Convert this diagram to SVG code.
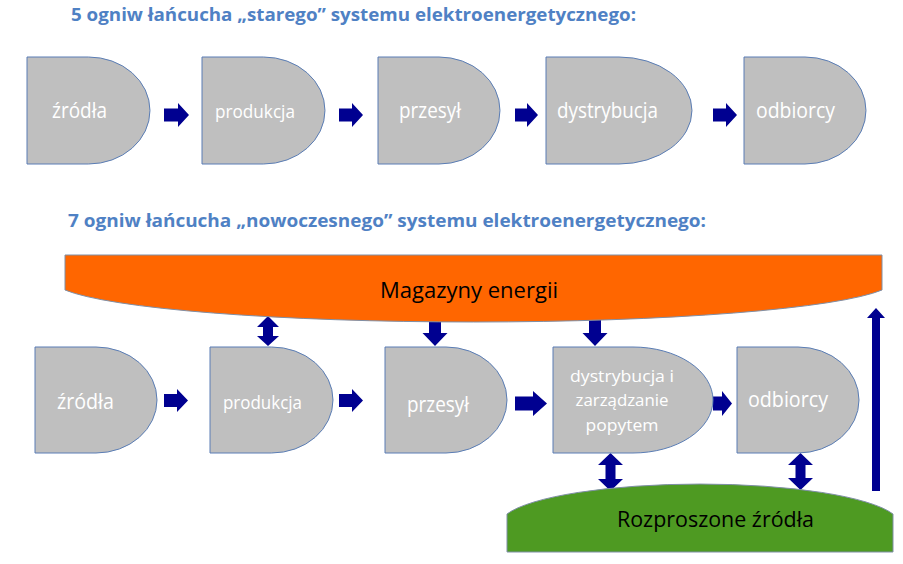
<svg xmlns="http://www.w3.org/2000/svg" width="903" height="564" viewBox="0 0 903 564">
<style>
.bg{fill:#ffffff}
.node{fill:#bfbfbf;stroke:#5a7db5;stroke-width:1}
.lbl{font-family:"Open Sans","Liberation Sans",sans-serif;fill:#ffffff}
.head{font-family:"Open Sans","Liberation Sans",sans-serif;font-weight:bold;fill:#4f81c4;font-size:17.5px}
.big{font-family:"Open Sans","Liberation Sans",sans-serif;fill:#000000;font-size:22px}
.arr{fill:#000090}
</style>
<rect class="bg" x="0" y="0" width="903" height="564"/>
<text class="head" x="71" y="21" textLength="565" lengthAdjust="spacingAndGlyphs">5 ogniw łańcucha „starego” systemu elektroenergetycznego:</text>
<text class="head" x="68" y="227" textLength="638" lengthAdjust="spacingAndGlyphs">7 ogniw łańcucha „nowoczesnego” systemu elektroenergetycznego:</text>

<g id="connectors">
  <path class="arr" d="M164,108.5 H178 V103 L189,115 L178,127 V121.5 H164 Z"/>
  <path class="arr" d="M339,108.5 H352 V103 L363,115 L352,127 V121.5 H339 Z"/>
  <path class="arr" d="M515,108.5 H527 V103 L538,115 L527,127 V121.5 H515 Z"/>
  <path class="arr" d="M713,108.5 H726 V103 L737,115 L726,127 V121.5 H713 Z"/>

  <path class="arr" d="M164,394 H177 V389 L188,400.5 L177,412 V407 H164 Z"/>
  <path class="arr" d="M339,394 H352 V389 L363,400.5 L352,412 V407 H339 Z"/>
  <path class="arr" d="M515,396.5 H533 V391 L547,403.5 L533,416 V410.5 H515 Z"/>
  <path class="arr" d="M713,396.5 H722 V391 L732,403.5 L722,416 V410.5 H713 Z"/>

  <path class="arr" d="M268,316 L279,327 H273 V336 H279 L268,346 L257,336 H263 V327 H257 Z"/>
  <path class="arr" d="M429,318 H441 V333 H447.5 L435,346 L422.5,333 H429 Z"/>
  <path class="arr" d="M589,318 H601 V333 H607.5 L595,346 L582.5,333 H589 Z"/>

  <path class="arr" d="M610.5,453 L623,465 H615.5 V479 H623 L610.5,491 L598,479 H605.5 V465 H598 Z"/>
  <path class="arr" d="M800.5,453 L813,465 H805.5 V478 H813 L800.5,490 L788,478 H795.5 V465 H788 Z"/>

  <path class="arr" d="M876,308 L885,318 H880 V491 H872 V318 H867 Z"/>
</g>

<g id="magazyny">
  <path d="M65,255 H882 V290 A420,41.7 0 0 1 65,290 Z" fill="#ff6600" stroke="#7f8fa6" stroke-width="1"/>
  <text class="big" x="380" y="298" textLength="178" lengthAdjust="spacingAndGlyphs">Magazyny energii</text>
</g>

<g id="rozproszone">
  <path d="M507,552 V514 A200,40.6 0 0 1 893,514 V552 Z" fill="#4e9a22" stroke="#7f8fa6" stroke-width="1"/>
  <text class="big" x="617" y="527" textLength="197" lengthAdjust="spacingAndGlyphs">Rozproszone źródła</text>
</g>

<g id="s1-zrodla">
  <path class="node" d="M27,57 H88.5 A61.5,53.5 0 0 1 88.5,164 H27 Z"/>
  <text class="lbl" x="52" y="118" font-size="21" textLength="55" lengthAdjust="spacingAndGlyphs">źródła</text>
</g>
<g id="s1-produkcja">
  <path class="node" d="M202,57 H263.5 A61.5,53.5 0 0 1 263.5,164 H202 Z"/>
  <text class="lbl" x="215" y="118" font-size="19" textLength="80" lengthAdjust="spacingAndGlyphs">produkcja</text>
</g>
<g id="s1-przesyl">
  <path class="node" d="M378,57 H439 A61,53.5 0 0 1 439,164 H378 Z"/>
  <text class="lbl" x="399" y="118" font-size="21" textLength="62" lengthAdjust="spacingAndGlyphs">przesył</text>
</g>
<g id="s1-dystrybucja">
  <path class="node" d="M546,57 H619 A73,53.5 0 0 1 619,164 H546 Z"/>
  <text class="lbl" x="557" y="118" font-size="21" textLength="101" lengthAdjust="spacingAndGlyphs">dystrybucja</text>
</g>
<g id="s1-odbiorcy">
  <path class="node" d="M744,57 H805 A61,53.5 0 0 1 805,164 H744 Z"/>
  <text class="lbl" x="756" y="118" font-size="21" textLength="79" lengthAdjust="spacingAndGlyphs">odbiorcy</text>
</g>

<g id="s2-zrodla">
  <path class="node" d="M35,347 H96 A61,53 0 0 1 96,453 H35 Z"/>
  <text class="lbl" x="57" y="409" font-size="21" textLength="57" lengthAdjust="spacingAndGlyphs">źródła</text>
</g>
<g id="s2-produkcja">
  <path class="node" d="M210,347 H271.5 A61.5,53 0 0 1 271.5,453 H210 Z"/>
  <text class="lbl" x="223" y="409" font-size="19" textLength="79" lengthAdjust="spacingAndGlyphs">produkcja</text>
</g>
<g id="s2-przesyl">
  <path class="node" d="M385,347 H446 A61,53 0 0 1 446,453 H385 Z"/>
  <text class="lbl" x="407" y="412" font-size="21" textLength="62" lengthAdjust="spacingAndGlyphs">przesył</text>
</g>
<g id="s2-dystrybucja">
  <path class="node" d="M553,347 H633 A80,53 0 0 1 633,453 H553 Z"/>
  <text class="lbl" x="622" y="382" font-size="17" text-anchor="middle" textLength="104" lengthAdjust="spacingAndGlyphs">dystrybucja i</text>
  <text class="lbl" x="622" y="406" font-size="17" text-anchor="middle" textLength="93" lengthAdjust="spacingAndGlyphs">zarządzanie</text>
  <text class="lbl" x="622" y="431" font-size="17" text-anchor="middle" textLength="73" lengthAdjust="spacingAndGlyphs">popytem</text>
</g>
<g id="s2-odbiorcy">
  <path class="node" d="M737,347 H798 A61,53 0 0 1 798,453 H737 Z"/>
  <text class="lbl" x="748" y="407" font-size="21" textLength="80" lengthAdjust="spacingAndGlyphs">odbiorcy</text>
</g>
</svg>
